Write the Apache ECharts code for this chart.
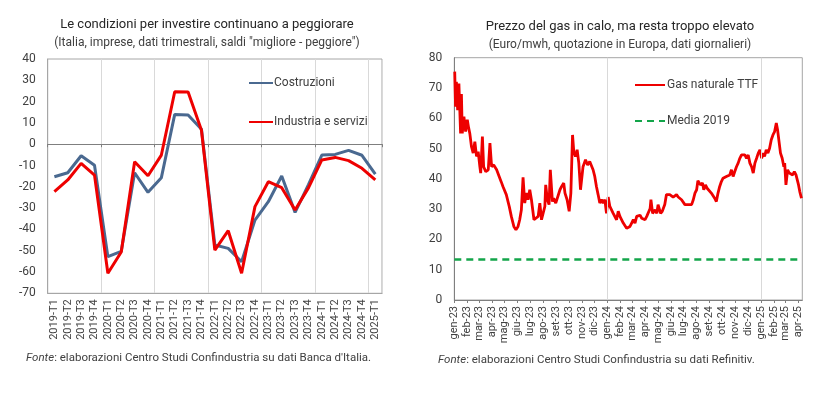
<!DOCTYPE html>
<html>
<head>
<meta charset="utf-8">
<script src="https://cdn.jsdelivr.net/npm/echarts@6/dist/echarts.min.js"></script>
<style>
html,body{margin:0;padding:0;background:#fff;}
#c{width:825px;height:393px;}
</style>
</head>
<body>
<div id="c"></div>
<script>
// ---- Left chart data ----
var quarters = ['2019-T1','2019-T2','2019-T3','2019-T4','2020-T1','2020-T2','2020-T3','2020-T4',
  '2021-T1','2021-T2','2021-T3','2021-T4','2022-T1','2022-T2','2022-T3','2022-T4',
  '2023-T1','2023-T2','2023-T3','2023-T4','2024-T1','2024-T2','2024-T3','2024-T4','2025-T1'];
var costruzioni = [-15.3,-13.4,-5.4,-9.9,-52.8,-50.3,-13.4,-22.6,-15.7,14.0,13.7,7.0,
  -47.3,-48.9,-55.2,-35.6,-27.0,-14.9,-32.0,-19.0,-5.1,-4.8,-2.9,-5.2,-14.1];
var industria = [-22.3,-16.8,-9.0,-14.5,-60.6,-50.6,-8.2,-14.8,-5.1,24.6,24.5,6.5,
  -49.7,-40.6,-60.6,-29.3,-17.6,-20.4,-30.9,-20.5,-7.4,-6.2,-7.7,-11.3,-16.8];

// ---- Right chart data ----
var gasDates = ['2023-01-02','2023-01-04','2023-01-06','2023-01-09','2023-01-12','2023-01-16','2023-01-18','2023-01-20','2023-01-24','2023-01-28',
'2023-02-01','2023-02-04','2023-02-07','2023-02-11','2023-02-15','2023-02-19','2023-02-23','2023-02-27',
'2023-03-03','2023-03-05','2023-03-09','2023-03-12','2023-03-17','2023-03-23','2023-03-27','2023-03-31',
'2023-04-05','2023-04-12','2023-04-18','2023-04-23','2023-04-27',
'2023-05-05','2023-05-12','2023-05-17','2023-05-23','2023-05-28',
'2023-06-02','2023-06-06','2023-06-10','2023-06-14','2023-06-18','2023-06-22','2023-06-26','2023-06-30',
'2023-07-04','2023-07-10','2023-07-14','2023-07-20','2023-07-24','2023-07-28',
'2023-08-01','2023-08-05','2023-08-07','2023-08-11','2023-08-15','2023-08-18','2023-08-23','2023-08-26','2023-08-31',
'2023-09-04','2023-09-10','2023-09-14','2023-09-19','2023-09-22','2023-09-27',
'2023-10-02','2023-10-06','2023-10-10','2023-10-13','2023-10-17','2023-10-21','2023-10-25','2023-10-29',
'2023-11-04','2023-11-10','2023-11-15','2023-11-20','2023-11-24','2023-11-28',
'2023-12-02','2023-12-06','2023-12-10','2023-12-14','2023-12-18','2023-12-22','2023-12-26','2023-12-30',
'2024-01-03','2024-01-07','2024-01-11','2024-01-15','2024-01-19','2024-01-23','2024-01-27','2024-01-31',
'2024-02-04','2024-02-08','2024-02-12','2024-02-16','2024-02-20','2024-02-24','2024-02-28',
'2024-03-03','2024-03-07','2024-03-11','2024-03-15','2024-03-19','2024-03-23','2024-03-27','2024-03-31',
'2024-04-04','2024-04-08','2024-04-12','2024-04-14','2024-04-18','2024-04-24','2024-04-28',
'2024-05-01','2024-05-03','2024-05-07','2024-05-11','2024-05-17','2024-05-21','2024-05-25','2024-05-29',
'2024-06-02','2024-06-06','2024-06-10','2024-06-14','2024-06-18','2024-06-22','2024-06-26','2024-06-30',
'2024-07-04','2024-07-08','2024-07-12','2024-07-16','2024-07-20','2024-07-24','2024-07-28',
'2024-08-01','2024-08-04','2024-08-10','2024-08-15','2024-08-18','2024-08-22','2024-08-26','2024-08-30',
'2024-09-05','2024-09-09','2024-09-13','2024-09-17','2024-09-21','2024-09-25','2024-09-29',
'2024-10-03','2024-10-07','2024-10-11','2024-10-15','2024-10-19','2024-10-23','2024-10-27','2024-10-31',
'2024-11-04','2024-11-08','2024-11-12','2024-11-16','2024-11-20','2024-11-24','2024-11-28',
'2024-12-02','2024-12-06','2024-12-10','2024-12-14','2024-12-18','2024-12-22','2024-12-26','2024-12-30',
'2025-01-03','2025-01-07','2025-01-10','2025-01-14','2025-01-18','2025-01-22','2025-01-26','2025-01-30',
'2025-02-03','2025-02-07','2025-02-10','2025-02-14','2025-02-17','2025-02-21','2025-02-25','2025-02-27',
'2025-03-02','2025-03-06','2025-03-10','2025-03-14','2025-03-18','2025-03-22','2025-03-26','2025-03-29',
'2025-04-01','2025-04-04','2025-04-08'];
var gasValues = [75.4,63.8,72,62.7,71.5,55,68,55,60.5,55.6,
59.5,57,55,50.6,48.5,52.3,47.4,49,
44,41.9,54,44,42.4,43,51.8,44,
44.6,43,40.8,39,37.5,
34.8,30.9,27.6,24.3,23.2,
24.3,26.5,29.8,40.5,32,35.3,33.1,36.4,
33.1,26.5,26,27.6,32,26.5,
27,30.9,38,33.1,31.5,43,32.5,33.6,32,
32.5,36.4,37.5,38.6,35.3,33.1,
29.3,35.3,54.5,49,47.4,49.6,45.2,36.4,
44,46.3,44.6,45.7,45.2,43,
40.8,37.5,34.8,32,33.1,32,33.1,28.6,
34,30.9,31.5,28.6,28,26.5,29.3,27.6,
27.6,25.4,25.4,23.7,23.2,24.3,25.4,
26.5,25.4,27.6,27,28,27,27,26.5,
27.6,28,30.2,33.1,28.6,29.8,28.6,
31.5,32,28.6,29.3,31.5,34.8,35.3,34.8,
35.3,34,33.6,34.8,34,33.6,33.1,32.5,
31.5,30.9,31.5,32,31.5,33.1,35.3,
36.4,39.4,38,38.6,36.4,38,36.9,36.4,
35.3,34.8,33.6,32.5,35.3,37.5,39.1,
40.2,39.7,40.8,40.2,41.3,43,40.8,42.4,
44,45.2,46.8,47.9,47.4,47.9,46.8,
47.9,45.2,44,41.9,45.2,46.8,48.5,49.6,
46.8,48.5,47.4,49.6,48.5,50.1,52.9,54.5,
55.6,58.4,56.2,51.8,48.5,46.8,44,45.2,
38,43,41.9,42.4,41.3,42.4,41.3,41.9,
38,35.8,33.6];
var media2019 = 13.4;
var gasStart = '2023-01-01', gasEnd = '2025-04-10';
var gridYears = ['2024-01-01','2025-01-01'];
var mesi = ['gen','feb','mar','apr','mag','giu','lug','ago','set','ott','nov','dic'];

var FONT = 'Roboto, "Noto Sans", sans-serif';
var TXT = '#404040';
var gasData = gasDates.map(function(d,i){return [d, gasValues[i]];});

var chart = echarts.init(document.getElementById('c'), null, {renderer:'canvas'});
var option = {
  animation:false,
  textStyle:{fontFamily:FONT},
  grid:[
    {left:47.7, right:443, top:59, bottom:99.7, show:true, borderColor:'#a6a6a6', borderWidth:1, containLabel:false},
    {left:454.3, right:22.7, top:57.7, bottom:93, show:true, borderColor:'#a6a6a6', borderWidth:1, containLabel:false}
  ],
  legend:[
    {orient:'vertical', left:243, top:72, itemWidth:24, itemHeight:14, itemGap:27,
     data:['Costruzioni','Industria e servizi'],
     itemStyle:{opacity:0},
     textStyle:{color:TXT, fontSize:12, fontFamily:FONT, padding:[0,0,0,-4]}},
    {orient:'vertical', left:629, top:74, itemWidth:30, itemHeight:14, itemGap:24,
     data:['Gas naturale TTF','Media 2019'],
     itemStyle:{opacity:0},
     textStyle:{color:TXT, fontSize:12, fontFamily:FONT, padding:[0,0,0,-3]}}
  ],
  xAxis:[
    {type:'category', gridIndex:0, data:quarters, boundaryGap:true,
     axisLine:{onZero:false, lineStyle:{color:'#a6a6a6'}},
     axisTick:{show:false},
     axisLabel:{rotate:90, interval:0, color:TXT, fontSize:11, fontFamily:FONT, margin:6},
     splitLine:{show:true, interval:3, lineStyle:{color:'#d9d9d9', width:1}}},
    {type:'category', gridIndex:0, data:quarters, boundaryGap:true, position:'bottom',
     axisLine:{onZero:true, lineStyle:{color:'#7f7f7f', width:1}},
     axisTick:{show:true, interval:3, length:3, lineStyle:{color:'#7f7f7f'}},
     axisLabel:{show:false}, splitLine:{show:false}},
    {type:'time', gridIndex:1, min:gasStart, max:gasEnd,
     minInterval:28*86400000, maxInterval:31*86400000,
     axisLine:{onZero:false, lineStyle:{color:'#7f7f7f'}},
     axisTick:{show:true, length:3, lineStyle:{color:'#7f7f7f'}},
     axisLabel:{rotate:90, interval:0, hideOverlap:false, color:TXT, fontSize:11, fontFamily:FONT, margin:6,
       formatter:function(v){var d=new Date(v); return mesi[d.getMonth()]+'-'+String(d.getFullYear()).slice(2);}},
     splitLine:{show:false}}
  ],
  yAxis:[
    {type:'value', gridIndex:0, min:-70, max:40, interval:10,
     axisLine:{show:true, lineStyle:{color:'#a6a6a6'}}, axisTick:{show:false},
     axisLabel:{color:TXT, fontSize:12, fontFamily:FONT, margin:12},
     splitLine:{show:false}},
    {type:'value', gridIndex:1, min:0, max:80, interval:10,
     axisLine:{show:true, lineStyle:{color:'#7f7f7f'}}, axisTick:{show:false},
     axisLabel:{color:TXT, fontSize:12, fontFamily:FONT, margin:12},
     splitLine:{show:false}}
  ],
  series:[
    {name:'Costruzioni', type:'line', xAxisIndex:0, yAxisIndex:0, data:costruzioni,
     symbol:'none', lineStyle:{color:'#4a6990', width:3}, itemStyle:{color:'#4a6990'}, z:2},
    {name:'Industria e servizi', type:'line', xAxisIndex:0, yAxisIndex:0, data:industria,
     symbol:'none', lineStyle:{color:'#ee0000', width:3}, itemStyle:{color:'#ee0000'}, z:3},
    {name:'Gas naturale TTF', type:'line', xAxisIndex:2, yAxisIndex:1, data:gasData,
     symbol:'none', lineStyle:{color:'#ee0000', width:2.8}, itemStyle:{color:'#ee0000'}, z:3,
     markLine:{silent:true, symbol:'none', label:{show:false},
       lineStyle:{color:'#d9d9d9', width:1, type:'solid'},
       data:gridYears.map(function(d){return {xAxis:d};})}},
    {name:'Media 2019', type:'line', xAxisIndex:2, yAxisIndex:1,
     data:[[gasStart, media2019],[gasEnd, media2019]],
     symbol:'none', lineStyle:{color:'#13a54a', width:2.5, type:[7,5]}, itemStyle:{color:'#13a54a'}, z:2}
  ],
  graphic:[
    {type:'text', x:207, y:25, style:{text:'Le condizioni per investire continuano a peggiorare', font:'13px '+FONT, fill:'#262626', textAlign:'center', textVerticalAlign:'middle'}},
    {type:'text', x:207, y:43, style:{text:'(Italia, imprese, dati trimestrali, saldi "migliore - peggiore")', font:'12px '+FONT, fill:TXT, textAlign:'center', textVerticalAlign:'middle'}},
    {type:'text', x:620, y:27, style:{text:'Prezzo del gas in calo, ma resta troppo elevato', font:'13px '+FONT, fill:'#262626', textAlign:'center', textVerticalAlign:'middle'}},
    {type:'text', x:620, y:45, style:{text:'(Euro/mwh, quotazione in Europa, dati giornalieri)', font:'12px '+FONT, fill:TXT, textAlign:'center', textVerticalAlign:'middle'}},
    {type:'text', x:26, y:358, style:{text:'{i|Fonte}: elaborazioni Centro Studi Confindustria su dati Banca d\'Italia.', font:'11.5px '+FONT, fill:TXT, textVerticalAlign:'middle',
      rich:{i:{fontStyle:'italic', fontSize:11.5, fontFamily:FONT, fill:TXT, color:TXT}}}},
    {type:'text', x:438, y:360, style:{text:'{i|Fonte}: elaborazioni Centro Studi Confindustria su dati Refinitiv.', font:'11.5px '+FONT, fill:TXT, textVerticalAlign:'middle',
      rich:{i:{fontStyle:'italic', fontSize:11.5, fontFamily:FONT, fill:TXT, color:TXT}}}}
  ]
};
chart.setOption(option);
</script>
</body>
</html>
